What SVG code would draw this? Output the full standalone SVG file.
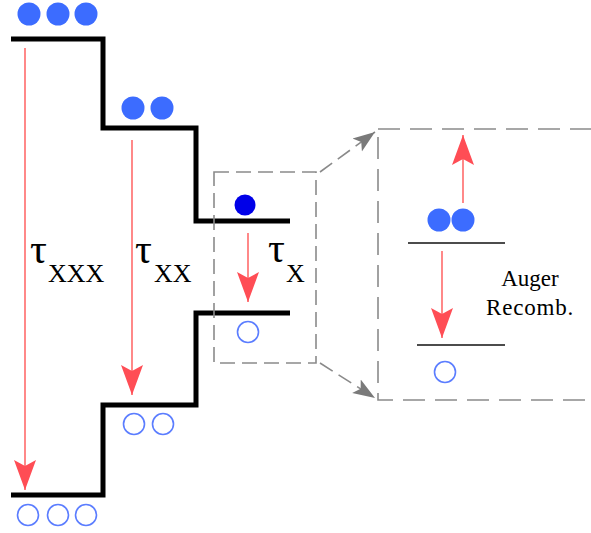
<svg xmlns="http://www.w3.org/2000/svg" width="591" height="533" viewBox="0 0 591 533">
<defs>
<marker id="rh" markerUnits="userSpaceOnUse" markerWidth="32" markerHeight="22" refX="30" refY="11" orient="auto" viewBox="0 0 32 22">
<path d="M30,11 L0,0 L6,11 L0,22 Z" fill="#ff4d55"/>
</marker>
<marker id="gh" markerUnits="userSpaceOnUse" markerWidth="24" markerHeight="18" refX="22" refY="8" orient="auto" viewBox="0 0 24 16">
<path d="M22,8 L0,0 L5,8 L0,16 Z" fill="#7a7a7a"/>
</marker>
</defs>
<style>
.lvl{fill:none;stroke:#000;stroke-width:5;stroke-linejoin:miter}
.thin{stroke:#111;stroke-width:1.5}
.red{stroke:#ff6b6b;stroke-width:1.6;fill:none;marker-end:url(#rh)}
.full{fill:#3c6cff}
.hole{fill:none;stroke:#5b7dff;stroke-width:1.6}
.dash{fill:none;stroke:#8a8a8a;stroke-width:1.6}
.tau{font-family:"Liberation Serif","Times New Roman",serif;fill:#000}
.lbl{font-family:"Liberation Serif","Times New Roman",serif;font-size:23px;fill:#000}
</style>
<rect width="591" height="533" fill="#fff"/>
<g id="staircase-upper"><path class="lvl" d="M11,39 H103 V128 H196 V221 H290"/></g>
<g id="staircase-lower"><path class="lvl" d="M11,495 H103 V405 H196 V313 H290"/></g>
<g id="electrons-xxx"><circle class="full" cx="29" cy="14" r="11.5"/><circle class="full" cx="58" cy="14" r="11.5"/><circle class="full" cx="86" cy="14" r="11.5"/></g>
<g id="electrons-xx"><circle class="full" cx="133" cy="108" r="11.5"/><circle class="full" cx="162" cy="108" r="11.5"/></g>
<g id="electron-x"><circle cx="245" cy="205" r="10.5" fill="#0000e8"/></g>
<g id="holes-xxx"><circle class="hole" cx="28" cy="515" r="10.5"/><circle class="hole" cx="58" cy="515" r="10.5"/><circle class="hole" cx="86" cy="515" r="10.5"/></g>
<g id="holes-xx"><circle class="hole" cx="134" cy="424" r="10.5"/><circle class="hole" cx="163" cy="424" r="10.5"/></g>
<g id="hole-x"><circle class="hole" cx="248" cy="332" r="10.5"/></g>
<g id="label-xxx"><text class="tau" x="30" y="263" font-size="42">τ</text><text class="tau" x="48" y="282" font-size="26">XXX</text></g>
<g id="label-xx"><text class="tau" x="135" y="263" font-size="42">τ</text><text class="tau" x="154" y="282" font-size="26">XX</text></g>
<g id="label-x"><text class="tau" x="268" y="262" font-size="42">τ</text><text class="tau" x="286" y="282" font-size="26">X</text></g>
<g id="zoom-box-small"><rect class="dash" x="214" y="172" width="102" height="191" stroke-dasharray="15 7"/></g>
<g id="zoom-box-large"><rect class="dash" x="378" y="129" width="240" height="271" stroke-dasharray="22 10"/></g>
<g id="auger-levels">
<line class="thin" x1="408" y1="243" x2="505" y2="243"/>
<line class="thin" x1="417" y1="345" x2="505" y2="345"/>
<circle class="full" cx="439" cy="220" r="11.5"/><circle class="full" cx="463" cy="220" r="11.5"/>
<circle class="hole" cx="445" cy="372" r="10.5"/>
<text class="lbl" x="530" y="286" text-anchor="middle">Auger</text>
<text class="lbl" x="530" y="315" text-anchor="middle" letter-spacing="0.8">Recomb.</text>
</g>
<g id="connectors">
<line class="red" x1="25" y1="48" x2="25" y2="490"/>
<line class="red" x1="132" y1="140" x2="132" y2="395"/>
<line class="red" x1="248" y1="233" x2="248" y2="302"/>
<line class="red" x1="463" y1="203" x2="463" y2="135"/>
<line class="red" x1="442" y1="251" x2="442" y2="338"/>
<line class="dash" x1="320" y1="172" x2="375" y2="132" stroke-dasharray="15 7" marker-end="url(#gh)"/>
<line class="dash" x1="320" y1="363" x2="375" y2="398" stroke-dasharray="15 7" marker-end="url(#gh)"/>
</g>
</svg>
